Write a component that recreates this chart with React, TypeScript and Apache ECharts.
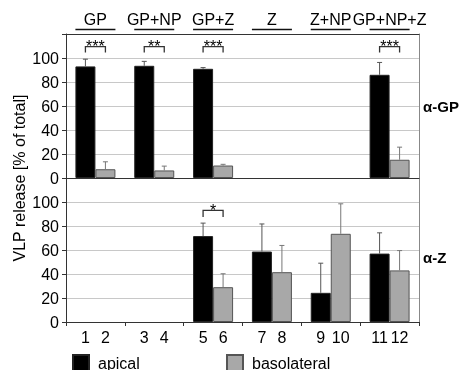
import React, { useEffect, useRef } from 'react';
import * as echarts from 'echarts';

const groups = ['GP', 'GP+NP', 'GP+Z', 'Z', 'Z+NP', 'GP+NP+Z'];
const laneLabels = ['1', '2', '3', '4', '5', '6', '7', '8', '9', '10', '11', '12'];

// alpha-GP panel (values and SD)
const gpApical = [93, 93.5, 91, null, null, 86];
const gpApicalSd = [6, 3.7, 1, null, null, 10.3];
const gpBaso = [7.3, 6.3, 10.4, null, null, 15.2];
const gpBasoSd = [6.2, 3.6, 1, null, null, 10.5];

// alpha-Z panel (values and SD)
const zApical = [null, null, 71.6, 58.7, 24.3, 57];
const zApicalSd = [null, null, 10.8, 23, 24.7, 17.3];
const zBaso = [null, null, 29, 41.5, 73.5, 43];
const zBasoSd = [null, null, 11.2, 22.3, 25, 16.5];

// significance brackets
const gpSigGroups = [0, 1, 2, 5];
const gpSigStars = [3, 2, 3, 3];
const gpSigLevel = [109.5, 109.5, 109.5, 109.5];
const gpSigEnd = [104.5, 104.5, 104.5, 104.5];
const zSigGroups = [2];
const zSigStars = [1];
const zSigLevel = [93];
const zSigEnd = [87.5];

const FONT = 'Liberation Sans, Arial, Helvetica, sans-serif';
const BAR_FRAC = 0.34;

type V = number | null;

function errData(vals: V[], sds: V[], side: number) {
  const out: number[][] = [];
  vals.forEach((v, i) => {
    if (v != null && sds[i] != null) out.push([i, v, sds[i] as number, side]);
  });
  return out;
}

function errSeries(xi: number, yi: number, vals: V[], sds: V[], side: number, color: string) {
  return {
    type: 'custom',
    xAxisIndex: xi,
    yAxisIndex: yi,
    z: 4,
    encode: { x: 0, y: 1 },
    data: errData(vals, sds, side),
    renderItem: (params: any, api: any) => {
      const gi = api.value(0);
      const v = api.value(1);
      const sd = api.value(2);
      const s = api.value(3);
      const band = api.size([1, 0])[0];
      const bw = band * BAR_FRAC;
      const p0 = api.coord([gi, v]);
      const p1 = api.coord([gi, v + sd]);
      const x = p0[0] + (s * bw) / 2;
      const cap = 2.5;
      const st = { stroke: color, lineWidth: 1 };
      return {
        type: 'group',
        children: [
          { type: 'line', shape: { x1: x, y1: p0[1], x2: x, y2: p1[1] }, style: st },
          { type: 'line', shape: { x1: x - cap, y1: p1[1], x2: x + cap, y2: p1[1] }, style: st },
        ],
      };
    },
  };
}

function sigSeries(xi: number, yi: number, gs: number[], stars: number[], lv: number[], en: number[]) {
  return {
    type: 'custom',
    xAxisIndex: xi,
    yAxisIndex: yi,
    z: 4,
    encode: { x: 0, y: 1 },
    data: gs.map((g, i) => [g, lv[i], en[i], stars[i]]),
    renderItem: (params: any, api: any) => {
      const gi = api.value(0);
      const band = api.size([1, 0])[0];
      const bw = band * BAR_FRAC;
      const pl = api.coord([gi, api.value(1)]);
      const pe = api.coord([gi, api.value(2)]);
      const xl = pl[0] - bw / 2;
      const xr = pl[0] + bw / 2;
      return {
        type: 'group',
        children: [
          {
            type: 'polyline',
            shape: { points: [[xl, pe[1]], [xl, pl[1]], [xr, pl[1]], [xr, pe[1]]] },
            style: { stroke: '#333', lineWidth: 1.3, fill: null },
          },
          {
            type: 'text',
            style: {
              text: '*'.repeat(api.value(3)),
              x: pl[0],
              y: pl[1],
              align: 'center',
              verticalAlign: 'middle',
              fontSize: 16,
              fontFamily: FONT,
              fill: '#000',
            },
          },
        ],
      };
    },
  };
}

const underlineSeries = {
  type: 'custom',
  xAxisIndex: 1,
  yAxisIndex: 0,
  z: 4,
  encode: { x: 0, y: 1 },
  data: groups.map((_, i) => [i, 120]),
  renderItem: (params: any, api: any) => {
    const band = api.size([1, 0])[0];
    const bw = band * BAR_FRAC;
    const p = api.coord([api.value(0), api.value(1)]);
    return {
      type: 'rect',
      shape: { x: p[0] - bw, y: p[1] - 5.2, width: 2 * bw, height: 1.5 },
      style: { fill: '#111' },
    };
  },
};

const dash = (a: V[]) => a.map((v) => (v == null ? '-' : v));

function valueAxis(gi: number) {
  return {
    gridIndex: gi,
    type: 'value',
    position: 'left',
    min: 0,
    max: 120,
    interval: 20,
    axisLine: { show: true, onZero: false, lineStyle: { color: '#333' } },
    axisTick: { show: true, length: 4, lineStyle: { color: '#333' } },
    axisLabel: {
      fontSize: 16,
      color: '#000',
      fontFamily: FONT,
      margin: 7,
      formatter: (v: number) => (v === 120 ? '' : String(v)),
    },
    splitLine: { show: true, lineStyle: { color: '#c8c8c8' } },
  };
}

function rightAxis(gi: number) {
  return {
    gridIndex: gi,
    type: 'value',
    position: 'right',
    min: 0,
    max: 120,
    interval: 20,
    axisLine: { show: true, onZero: false, lineStyle: { color: '#888' } },
    axisTick: { show: false },
    axisLabel: { show: false },
    splitLine: { show: false },
  };
}

const sideLabel = (text: string, y: number) => ({
  type: 'text',
  x: 423,
  y,
  style: {
    text,
    fontSize: 15,
    fontWeight: 'bold',
    fontFamily: FONT,
    fill: '#000',
    align: 'left',
    verticalAlign: 'middle',
  },
});

export default function App() {
  const ref = useRef<HTMLDivElement>(null);
  useEffect(() => {
    if (!ref.current) return;
    const chart = echarts.init(ref.current, undefined, { renderer: 'svg' });
    const barCommon = { type: 'bar', barWidth: '34%', barGap: '0%', z: 3 };
    const apStyle = { color: '#000', borderColor: '#222', borderWidth: 1 };
    const baStyle = { color: '#a8a8a8', borderColor: '#555', borderWidth: 1 };
    chart.setOption({
      animation: false,
      textStyle: { fontFamily: FONT },
      grid: [
        { left: 66, right: 41, top: 34, height: 144 },
        { left: 66, right: 41, top: 178, height: 144 },
      ],
      xAxis: [
        {
          gridIndex: 0,
          type: 'category',
          data: groups,
          position: 'bottom',
          axisLine: { show: true, onZero: false, lineStyle: { color: '#333' } },
          axisTick: { show: false },
          axisLabel: { show: false },
          z: 5,
        },
        {
          gridIndex: 0,
          type: 'category',
          data: groups,
          position: 'top',
          axisLine: { show: true, onZero: false, lineStyle: { color: '#333' } },
          axisTick: { show: false },
          axisLabel: { margin: 7, fontSize: 16, color: '#000', fontFamily: FONT, interval: 0 },
          z: 5,
        },
        {
          gridIndex: 1,
          type: 'category',
          data: groups,
          position: 'bottom',
          axisLine: { show: true, onZero: false, lineStyle: { color: '#333' } },
          axisTick: { show: true, length: 4, lineStyle: { color: '#333' } },
          axisLabel: {
            margin: 7,
            interval: 0,
            formatter: (v: string, i: number) => `{n|${laneLabels[2 * i]}}{n|${laneLabels[2 * i + 1]}}`,
            rich: { n: { width: 20, align: 'center', fontSize: 16, fontFamily: FONT, color: '#000' } },
          },
          z: 5,
        },
      ],
      yAxis: [valueAxis(0), valueAxis(1), rightAxis(0), rightAxis(1)],
      legend: [
        {
          data: ['apical'],
          left: 72,
          top: 354,
          padding: 0,
          icon: 'rect',
          itemWidth: 16,
          itemHeight: 16,
          textStyle: { fontSize: 16, fontFamily: FONT, color: '#000', padding: [0, 0, 0, 4] },
        },
        {
          data: ['basolateral'],
          left: 226,
          top: 354,
          padding: 0,
          icon: 'rect',
          itemWidth: 16,
          itemHeight: 16,
          textStyle: { fontSize: 16, fontFamily: FONT, color: '#000', padding: [0, 0, 0, 4] },
        },
      ],
      graphic: [
        {
          type: 'text',
          x: 19,
          y: 178,
          rotation: Math.PI / 2,
          style: {
            text: 'VLP release [% of total]',
            fontSize: 16,
            fontFamily: FONT,
            fill: '#000',
            align: 'center',
            verticalAlign: 'middle',
          },
        },
        sideLabel('α-GP', 106),
        sideLabel('α-Z', 257),
      ],
      series: [
        { ...barCommon, name: 'apical', xAxisIndex: 0, yAxisIndex: 0, data: dash(gpApical), itemStyle: apStyle },
        { ...barCommon, name: 'basolateral', xAxisIndex: 0, yAxisIndex: 0, data: dash(gpBaso), itemStyle: baStyle },
        { ...barCommon, name: 'apical', xAxisIndex: 2, yAxisIndex: 1, data: dash(zApical), itemStyle: apStyle },
        { ...barCommon, name: 'basolateral', xAxisIndex: 2, yAxisIndex: 1, data: dash(zBaso), itemStyle: baStyle },
        errSeries(0, 0, gpApical, gpApicalSd, -1, '#555'),
        errSeries(0, 0, gpBaso, gpBasoSd, 1, '#777'),
        errSeries(2, 1, zApical, zApicalSd, -1, '#555'),
        errSeries(2, 1, zBaso, zBasoSd, 1, '#777'),
        sigSeries(0, 0, gpSigGroups, gpSigStars, gpSigLevel, gpSigEnd),
        sigSeries(2, 1, zSigGroups, zSigStars, zSigLevel, zSigEnd),
        underlineSeries,
      ],
    });
    return () => chart.dispose();
  }, []);
  return <div ref={ref} style={{ position: 'fixed', left: 0, top: 0, width: 460, height: 370 }} />;
}
